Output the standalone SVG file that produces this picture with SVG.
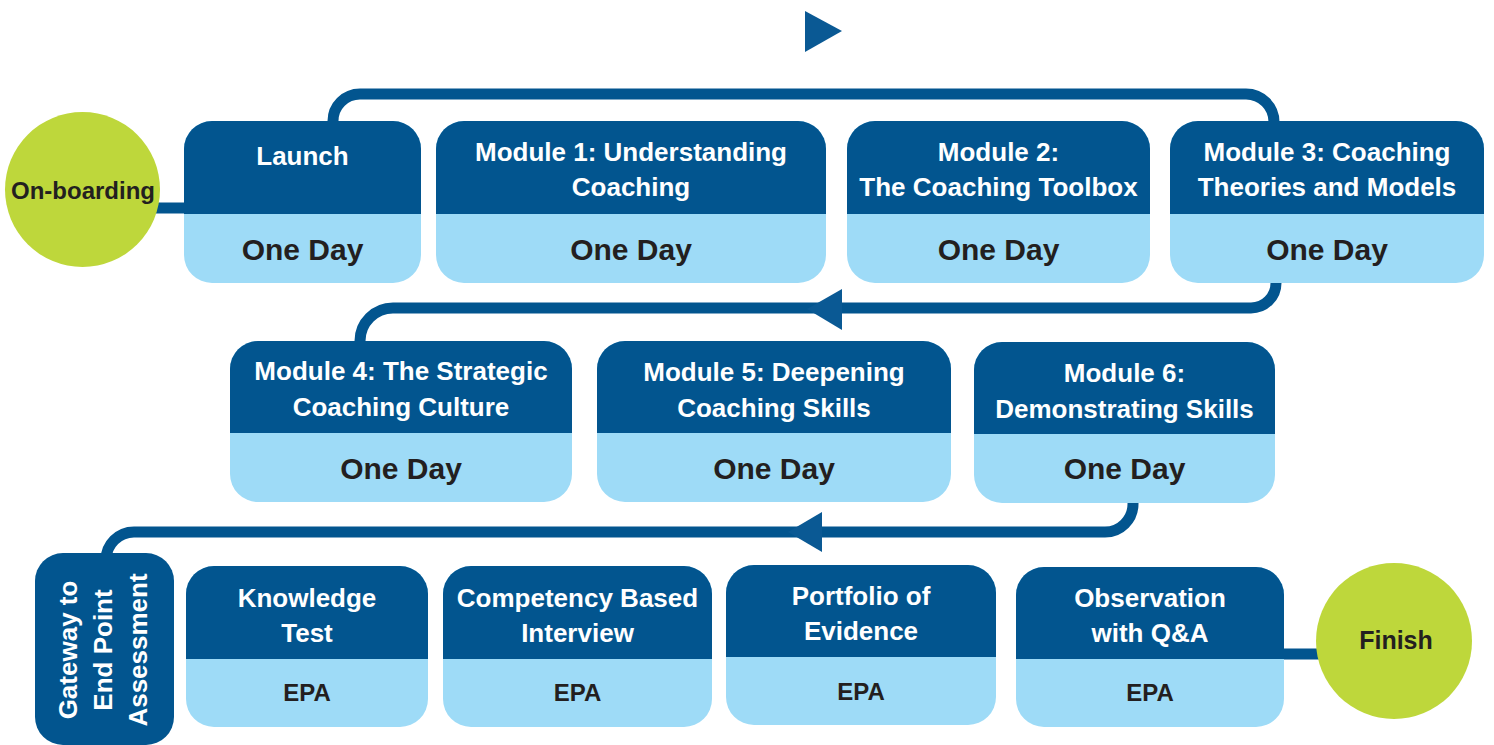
<svg xmlns="http://www.w3.org/2000/svg" width="1494" height="745" viewBox="0 0 1494 745">
<defs>
<style>
.dark{fill:#02558f}
.light{fill:#9edbf7}
.green{fill:#bed73b}
.conn{fill:none;stroke:#02558f;stroke-width:11}
.arrow{fill:#0a5994}
.t{font-family:"Liberation Sans",Arial,sans-serif;font-weight:bold;font-size:26px;fill:#ffffff;text-anchor:middle}
.d{font-family:"Liberation Sans",Arial,sans-serif;font-weight:bold;font-size:30px;fill:#231f20;text-anchor:middle}
.e{font-family:"Liberation Sans",Arial,sans-serif;font-weight:bold;font-size:24px;fill:#231f20;text-anchor:middle}
.c{font-family:"Liberation Sans",Arial,sans-serif;font-weight:bold;font-size:24px;fill:#231f20;text-anchor:middle}
.g{font-family:"Liberation Sans",Arial,sans-serif;font-weight:bold;font-size:26px;fill:#ffffff;text-anchor:middle}
</style>
</defs>
<rect width="1494" height="745" fill="#ffffff"/>

<g id="connectors">
<line class="conn" x1="150" y1="208" x2="190" y2="208"/>
<path class="conn" d="M 333 126 V 121 A 27 27 0 0 1 360 94 H 1246 A 28 28 0 0 1 1274 122 V 126"/>
<path class="conn" d="M 1276 280 V 283 A 25 25 0 0 1 1251 308 H 393 A 33 33 0 0 0 360 341 V 344"/>
<path class="conn" d="M 1133 500 V 504 A 28 28 0 0 1 1105 532 H 134 A 28 28 0 0 0 106 560"/>
<line class="conn" x1="1280" y1="654" x2="1330" y2="654"/>
<polygon class="arrow" points="805,11 805,52 842,31"/>
<polygon class="arrow" points="807,309 842,289 842,330"/>
<polygon class="arrow" points="788,532 822,512 822,552"/>
</g>

<g id="onboarding">
<circle class="green" cx="82.5" cy="189.5" r="77.5"/>
<text class="c" x="83" y="199">On-boarding</text>
</g>

<g id="launch">
<rect class="light" x="184" y="121" width="237" height="162" rx="28"/>
<path class="dark" d="M 184 214 V 149 A 28 28 0 0 1 212 121 H 393 A 28 28 0 0 1 421 149 V 214 Z"/>
<text class="t" x="302.5" y="165">Launch</text>
<text class="d" x="302.5" y="260">One Day</text>
</g>

<g id="module1">
<rect class="light" x="436" y="121" width="390" height="162" rx="28"/>
<path class="dark" d="M 436 214 V 149 A 28 28 0 0 1 464 121 H 798 A 28 28 0 0 1 826 149 V 214 Z"/>
<text class="t" x="631" y="161">Module 1: Understanding</text>
<text class="t" x="631" y="196">Coaching</text>
<text class="d" x="631" y="260">One Day</text>
</g>

<g id="module2">
<rect class="light" x="847" y="121" width="303" height="162" rx="28"/>
<path class="dark" d="M 847 214 V 149 A 28 28 0 0 1 875 121 H 1122 A 28 28 0 0 1 1150 149 V 214 Z"/>
<text class="t" x="998.5" y="161">Module 2:</text>
<text class="t" x="998.5" y="196">The Coaching Toolbox</text>
<text class="d" x="998.5" y="260">One Day</text>
</g>

<g id="module3">
<rect class="light" x="1170" y="121" width="314" height="162" rx="28"/>
<path class="dark" d="M 1170 214 V 149 A 28 28 0 0 1 1198 121 H 1456 A 28 28 0 0 1 1484 149 V 214 Z"/>
<text class="t" x="1327" y="161">Module 3: Coaching</text>
<text class="t" x="1327" y="196">Theories and Models</text>
<text class="d" x="1327" y="260">One Day</text>
</g>

<g id="module4">
<rect class="light" x="230" y="341" width="342" height="161" rx="28"/>
<path class="dark" d="M 230 433 V 369 A 28 28 0 0 1 258 341 H 544 A 28 28 0 0 1 572 369 V 433 Z"/>
<text class="t" x="401" y="380">Module 4: The Strategic</text>
<text class="t" x="401" y="416">Coaching Culture</text>
<text class="d" x="401" y="479">One Day</text>
</g>

<g id="module5">
<rect class="light" x="597" y="341" width="354" height="161" rx="28"/>
<path class="dark" d="M 597 433 V 369 A 28 28 0 0 1 625 341 H 923 A 28 28 0 0 1 951 369 V 433 Z"/>
<text class="t" x="774" y="381">Module 5: Deepening</text>
<text class="t" x="774" y="417">Coaching Skills</text>
<text class="d" x="774" y="479">One Day</text>
</g>

<g id="module6">
<rect class="light" x="974" y="342" width="301" height="161" rx="28"/>
<path class="dark" d="M 974 434 V 370 A 28 28 0 0 1 1002 342 H 1247 A 28 28 0 0 1 1275 370 V 434 Z"/>
<text class="t" x="1124.5" y="382">Module 6:</text>
<text class="t" x="1124.5" y="418">Demonstrating Skills</text>
<text class="d" x="1124.5" y="479">One Day</text>
</g>

<g id="gateway">
<rect class="dark" x="35" y="553" width="139" height="192" rx="28"/>
<text class="g" transform="rotate(-90)" x="-650" y="77">Gateway to</text>
<text class="g" transform="rotate(-90)" x="-650" y="112">End Point</text>
<text class="g" transform="rotate(-90)" x="-650" y="147">Assessment</text>
</g>

<g id="knowledge">
<rect class="light" x="186" y="566" width="242" height="161" rx="28"/>
<path class="dark" d="M 186 659 V 594 A 28 28 0 0 1 214 566 H 400 A 28 28 0 0 1 428 594 V 659 Z"/>
<text class="t" x="307" y="607">Knowledge</text>
<text class="t" x="307" y="642">Test</text>
<text class="e" x="307" y="701">EPA</text>
</g>

<g id="competency">
<rect class="light" x="443" y="566" width="269" height="161" rx="28"/>
<path class="dark" d="M 443 659 V 594 A 28 28 0 0 1 471 566 H 684 A 28 28 0 0 1 712 594 V 659 Z"/>
<text class="t" x="577.5" y="607">Competency Based</text>
<text class="t" x="577.5" y="642">Interview</text>
<text class="e" x="577.5" y="701">EPA</text>
</g>

<g id="portfolio">
<rect class="light" x="726" y="565" width="270" height="160" rx="28"/>
<path class="dark" d="M 726 657 V 593 A 28 28 0 0 1 754 565 H 968 A 28 28 0 0 1 996 593 V 657 Z"/>
<text class="t" x="861" y="605">Portfolio of</text>
<text class="t" x="861" y="640">Evidence</text>
<text class="e" x="861" y="700">EPA</text>
</g>

<g id="observation">
<rect class="light" x="1016" y="567" width="268" height="160" rx="28"/>
<path class="dark" d="M 1016 659 V 595 A 28 28 0 0 1 1044 567 H 1256 A 28 28 0 0 1 1284 595 V 659 Z"/>
<text class="t" x="1150" y="607">Observation</text>
<text class="t" x="1150" y="642">with Q&amp;A</text>
<text class="e" x="1150" y="701">EPA</text>
</g>

<g id="finish">
<circle class="green" cx="1394" cy="641" r="78"/>
<text class="c" x="1396" y="649" style="font-size:25px">Finish</text>
</g>
</svg>
